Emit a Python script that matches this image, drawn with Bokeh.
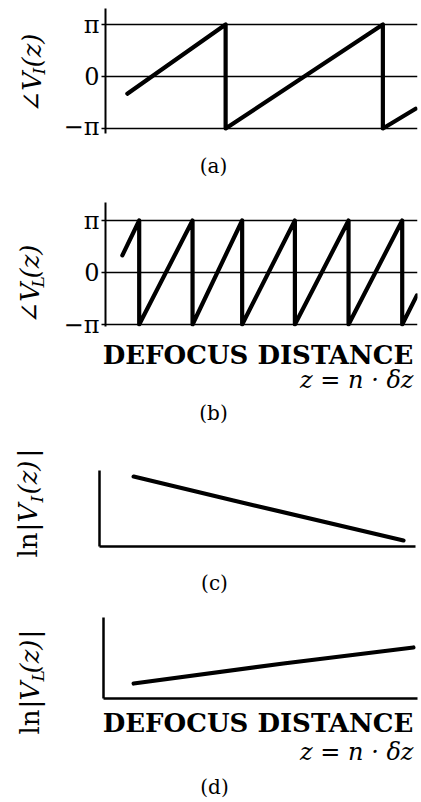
import numpy as np
from bokeh.plotting import figure
from bokeh.layouts import column, row
from bokeh.models import Range1d, FixedTicker, Label, LinearAxis, Grid
from bokeh.embed import file_html
from bokeh.resources import INLINE

# ---- data -------------------------------------------------------------
# (a) phase of V_I(z), in units of pi, against defocus distance (arb. units)
z_phase_I = [0.70, 3.85, 3.85, 8.89, 8.89, 9.94]
phase_I = [-0.33, 1.0, -1.0, 1.0, -1.0, -0.62]

# (b) phase of V_L(z), in units of pi
z_phase_L = [0.54, 1.08, 1.08, 2.79, 2.79, 4.38, 4.38, 6.07, 6.07,
             7.79, 7.79, 9.51, 9.51, 9.98]
phase_L = [0.33, 1.0, -1.0, 1.0, -1.0, 1.0, -1.0, 1.0, -1.0,
           1.0, -1.0, 1.0, -1.0, -0.44]

# (c) ln|V_I(z)| (relative units)
z_mag_I = [1.08, 4.24, 9.62]
lnmag_I = [0.92, 0.605, 0.08]

# (d) ln|V_L(z)| (relative units)
z_mag_L = [0.96, 5.73, 9.87]
lnmag_L = [0.185, 0.432, 0.63]

phase_ticks = [-1, 0, 1]
phase_tick_labels = ["\u2212\u03c0", "0", "\u03c0"]

x_title = "DEFOCUS DISTANCE"
x_formula = "z = n \u00b7 \u03b4z"

# ---- layout constants (page pixels) --------------------------------------
SERIF = "DejaVu Serif"
PAGE_W, PAGE_H = 421, 802
LEFT_W = 60                      # column holding the rotated axis titles
RIGHT_W = PAGE_W - LEFT_W
PI = np.pi
YT = 26                          # axis-title font size
YS = 17                          # subscript font size

LINE = dict(line_color="black", line_width=4.2, line_cap="round", line_join="round")
COMMON = dict(output_backend="svg", toolbar_location=None, title=None,
              x_axis_location=None, y_axis_location=None, frame_align=False)


def blank(fig):
    fig.grid.visible = False
    fig.outline_line_color = None
    fig.background_fill_color = "white"
    fig.border_fill_color = "white"
    return fig


def text_fig(x0, y0, w, h):
    """A borderless figure whose data coordinates are page pixels."""
    f = figure(width=w, height=h, x_range=Range1d(x0, x0 + w),
               y_range=Range1d(y0 + h, y0), min_border=0, **COMMON)
    return blank(f)


def put(f, x, y, txt, size, style="normal", align="center",
        baseline="alphabetic", angle=0.0):
    f.add_layout(Label(x=x, y=y, text=txt, angle=angle, angle_units="rad",
                       text_font=SERIF, text_font_size=f"{size}px",
                       text_font_style=style, text_color="black",
                       text_align=align, text_baseline=baseline))


def vput(f, x, y, txt, size, style="normal"):
    put(f, x, y, txt, size, style=style, align="left", angle=PI / 2)


def panel(y0, h, frame, xr, yr):
    left, top, right, bottom = frame          # page pixels of the plot frame
    f = figure(width=RIGHT_W, height=h, x_range=Range1d(*xr), y_range=Range1d(*yr),
               min_border_left=left - LEFT_W, min_border_right=PAGE_W - right,
               min_border_top=top - y0, min_border_bottom=y0 + h - bottom,
               **COMMON)
    return blank(f)


def phase_axes(f):
    ax = LinearAxis(ticker=FixedTicker(ticks=phase_ticks),
                    major_label_overrides=dict(zip(phase_ticks, phase_tick_labels)))
    ax.axis_line_width = 2
    ax.axis_line_color = "black"
    ax.major_tick_line_width = 1.5
    ax.major_tick_line_color = "black"
    ax.major_tick_out = 4
    ax.major_tick_in = 0
    ax.minor_tick_out = 0
    ax.minor_tick_in = 0
    ax.major_label_standoff = 2
    ax.major_label_text_font = SERIF
    ax.major_label_text_font_size = "24px"
    ax.major_label_text_color = "black"
    f.add_layout(ax, "left")
    f.add_layout(Grid(dimension=1, ticker=FixedTicker(ticks=phase_ticks),
                      grid_line_color="black", grid_line_width=1.5))


def plain_axes(f):
    for loc in ("left", "below"):
        ax = LinearAxis(ticker=FixedTicker(ticks=[]))
        ax.axis_line_width = 2.5
        ax.axis_line_color = "black"
        ax.major_tick_line_color = None
        ax.minor_tick_line_color = None
        ax.major_label_text_font_size = "0px"
        f.add_layout(ax, loc)


# ---- (a) phase of V_I ----------------------------------------------------
pa = panel(0, 140, (103, 8, 417, 133), (0, 10), (-(133 - 76) / 52, (76 - 8) / 52))
phase_axes(pa)
pa.line(z_phase_I, phase_I, **LINE)
sa = text_fig(LEFT_W, 140, RIGHT_W, 40)
put(sa, 213, 165, "(a)", 20, baseline="middle")

# ---- (b) phase of V_L ----------------------------------------------------
pb = panel(180, 158, (103, 202, 417, 326), (0, 10), (-(326 - 272) / 52, (272 - 202) / 52))
phase_axes(pb)
pb.line(z_phase_L, phase_L, **LINE)
sb = text_fig(LEFT_W, 338, RIGHT_W, 92)
put(sb, 257.5, 354, x_title, 26, style="bold")
put(sb, 413, 379, x_formula, 24, style="italic", align="right")
put(sb, 213, 412, "(b)", 20, baseline="middle")

# ---- (c) ln|V_I| -----------------------------------------------------------
pc = panel(430, 130, (99, 470, 415, 546), (0, 10), (0, 1))
plain_axes(pc)
pc.line(z_mag_I, lnmag_I, **LINE)
sc = text_fig(LEFT_W, 560, RIGHT_W, 35)
put(sc, 214, 582, "(c)", 20, baseline="middle")

# ---- (d) ln|V_L| -----------------------------------------------------------
pd_ = panel(595, 110, (103, 617, 417, 698), (0, 10), (0, 1))
plain_axes(pd_)
pd_.line(z_mag_L, lnmag_L, **LINE)
sd = text_fig(LEFT_W, 705, RIGHT_W, 97)
put(sd, 257.5, 722, x_title, 26, style="bold")
put(sd, 413, 751, x_formula, 24, style="italic", align="right")
put(sd, 214, 786, "(d)", 20, baseline="middle")

# ---- rotated axis titles ---------------------------------------------------
lt = text_fig(0, 0, LEFT_W, PAGE_H)
# angle V_I(z)
vput(lt, 31, 112, "\u2220V", YT, "italic")
vput(lt, 38, 74, "I", YS, "italic")
vput(lt, 31, 67, "(z)", YT, "italic")
# angle V_L(z)
vput(lt, 29, 323, "\u2220V", YT, "italic")
vput(lt, 37, 287, "L", YS, "italic")
vput(lt, 29, 278, "(z)", YT, "italic")
# ln|V_I(z)|
vput(lt, 27, 557, "ln", YT)
vput(lt, 27, 531, "|", YT)
vput(lt, 27, 522, "V", YT, "italic")
vput(lt, 36, 502, "I", YS, "italic")
vput(lt, 27, 494, "(z)", YT, "italic")
vput(lt, 27, 457, "|", YT)
# ln|V_L(z)|
vput(lt, 29, 734, "ln", YT)
vput(lt, 29, 708, "|", YT)
vput(lt, 29, 700, "V", YT, "italic")
vput(lt, 37, 681, "L", YS, "italic")
vput(lt, 29, 673, "(z)", YT, "italic")
vput(lt, 29, 638, "|", YT)

layout = row(lt, column(pa, sa, pb, sb, pc, sc, pd_, sd, spacing=0), spacing=0)
open("out.html", "w").write(file_html(layout, INLINE))
